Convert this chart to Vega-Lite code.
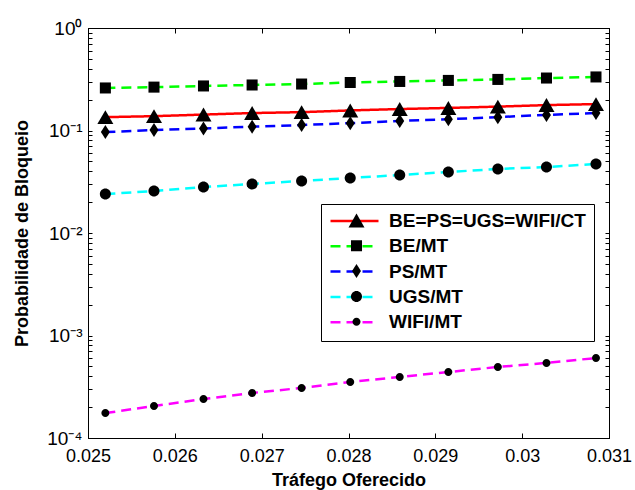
{
  "$schema": "https://vega.github.io/schema/vega-lite/v6.json",
  "autosize": "none",
  "width": 521,
  "height": 410,
  "padding": {"left": 88, "top": 28, "right": 26, "bottom": 52},
  "background": "white",
  "config": {
    "font": "Liberation Sans",
    "view": {"stroke": "black", "strokeWidth": 1},
    "axis": {"grid": false, "domainColor": "black", "tickColor": "black", "labelColor": "black", "titleColor": "black", "labelFont": "Liberation Sans", "titleFont": "Liberation Sans"}
  },
  "data": {"values": [
    {"x": 0.02520, "p": 0.135, "s": "BE=PS=UGS=WIFI/CT"},
    {"x": 0.02576, "p": 0.138, "s": "BE=PS=UGS=WIFI/CT"},
    {"x": 0.02633, "p": 0.143, "s": "BE=PS=UGS=WIFI/CT"},
    {"x": 0.02689, "p": 0.148, "s": "BE=PS=UGS=WIFI/CT"},
    {"x": 0.02746, "p": 0.151, "s": "BE=PS=UGS=WIFI/CT"},
    {"x": 0.02802, "p": 0.157, "s": "BE=PS=UGS=WIFI/CT"},
    {"x": 0.02859, "p": 0.162, "s": "BE=PS=UGS=WIFI/CT"},
    {"x": 0.02915, "p": 0.166, "s": "BE=PS=UGS=WIFI/CT"},
    {"x": 0.02972, "p": 0.171, "s": "BE=PS=UGS=WIFI/CT"},
    {"x": 0.03028, "p": 0.177, "s": "BE=PS=UGS=WIFI/CT"},
    {"x": 0.03085, "p": 0.181, "s": "BE=PS=UGS=WIFI/CT"},
    {"x": 0.02520, "p": 0.260, "s": "BE/MT"},
    {"x": 0.02576, "p": 0.265, "s": "BE/MT"},
    {"x": 0.02633, "p": 0.272, "s": "BE/MT"},
    {"x": 0.02689, "p": 0.278, "s": "BE/MT"},
    {"x": 0.02746, "p": 0.284, "s": "BE/MT"},
    {"x": 0.02802, "p": 0.294, "s": "BE/MT"},
    {"x": 0.02859, "p": 0.301, "s": "BE/MT"},
    {"x": 0.02915, "p": 0.308, "s": "BE/MT"},
    {"x": 0.02972, "p": 0.315, "s": "BE/MT"},
    {"x": 0.03028, "p": 0.325, "s": "BE/MT"},
    {"x": 0.03085, "p": 0.333, "s": "BE/MT"},
    {"x": 0.02520, "p": 0.0966, "s": "PS/MT"},
    {"x": 0.02576, "p": 0.101, "s": "PS/MT"},
    {"x": 0.02633, "p": 0.1047, "s": "PS/MT"},
    {"x": 0.02689, "p": 0.109, "s": "PS/MT"},
    {"x": 0.02746, "p": 0.113, "s": "PS/MT"},
    {"x": 0.02802, "p": 0.118, "s": "PS/MT"},
    {"x": 0.02859, "p": 0.124, "s": "PS/MT"},
    {"x": 0.02915, "p": 0.129, "s": "PS/MT"},
    {"x": 0.02972, "p": 0.135, "s": "PS/MT"},
    {"x": 0.03028, "p": 0.142, "s": "PS/MT"},
    {"x": 0.03085, "p": 0.148, "s": "PS/MT"},
    {"x": 0.02520, "p": 0.0240, "s": "UGS/MT"},
    {"x": 0.02576, "p": 0.0257, "s": "UGS/MT"},
    {"x": 0.02633, "p": 0.0281, "s": "UGS/MT"},
    {"x": 0.02689, "p": 0.0301, "s": "UGS/MT"},
    {"x": 0.02746, "p": 0.0322, "s": "UGS/MT"},
    {"x": 0.02802, "p": 0.0344, "s": "UGS/MT"},
    {"x": 0.02859, "p": 0.0368, "s": "UGS/MT"},
    {"x": 0.02915, "p": 0.0394, "s": "UGS/MT"},
    {"x": 0.02972, "p": 0.0421, "s": "UGS/MT"},
    {"x": 0.03028, "p": 0.0440, "s": "UGS/MT"},
    {"x": 0.03085, "p": 0.0471, "s": "UGS/MT"},
    {"x": 0.02520, "p": 0.000175, "s": "WIFI/MT"},
    {"x": 0.02576, "p": 0.000205, "s": "WIFI/MT"},
    {"x": 0.02633, "p": 0.000240, "s": "WIFI/MT"},
    {"x": 0.02689, "p": 0.000275, "s": "WIFI/MT"},
    {"x": 0.02746, "p": 0.000308, "s": "WIFI/MT"},
    {"x": 0.02802, "p": 0.000352, "s": "WIFI/MT"},
    {"x": 0.02859, "p": 0.000394, "s": "WIFI/MT"},
    {"x": 0.02915, "p": 0.000440, "s": "WIFI/MT"},
    {"x": 0.02972, "p": 0.000493, "s": "WIFI/MT"},
    {"x": 0.03028, "p": 0.000540, "s": "WIFI/MT"},
    {"x": 0.03085, "p": 0.000603, "s": "WIFI/MT"}
  ]},
  "resolve": {"axis": {"x": "independent", "y": "independent"}},
  "layer": [
    {
      "mark": {"type": "line", "strokeWidth": 2.5, "clip": true},
      "encoding": {
        "x": {"field": "x", "type": "quantitative",
          "scale": {"domain": [0.025, 0.031], "nice": false, "zero": false},
          "axis": {"orient": "bottom", "values": [0.025, 0.026, 0.027, 0.028, 0.029, 0.03, 0.031],
            "labelExpr": "format(datum.value, '~g')", "tickSize": -5, "labelPadding": 14,
            "labelFontSize": 18, "labelFlush": false, "labelOverlap": false,
            "title": "Tráfego Oferecido", "titleFontSize": 18, "titleFontWeight": "bold", "titlePadding": 6}},
        "y": {"field": "p", "type": "quantitative",
          "scale": {"type": "log", "domain": [0.0001, 1], "nice": false},
          "axis": {"orient": "left",
            "values": [0.0001, 0.0002, 0.0003, 0.0004, 0.0005, 0.0006, 0.0007, 0.0008, 0.0009, 0.001, 0.002, 0.003, 0.004, 0.005, 0.006, 0.007, 0.008, 0.009, 0.01, 0.02, 0.03, 0.04, 0.05, 0.06, 0.07, 0.08, 0.09, 0.1, 0.2, 0.3, 0.4, 0.5, 0.6, 0.7, 0.8, 0.9, 1],
            "labelExpr": "datum.value == 1 ? '10⁰' : datum.value == 0.1 ? '10⁻¹' : datum.value == 0.01 ? '10⁻²' : datum.value == 0.001 ? '10⁻³' : datum.value == 0.0001 ? '10⁻⁴' : ''",
            "tickSize": -4, "labelPadding": 10, "labelFontSize": 19, "labelOverlap": false, "labelFlush": false,
            "title": "Probabilidade de Bloqueio", "titleFontSize": 18, "titleFontWeight": "bold", "titlePadding": 15}},
        "color": {"field": "s", "type": "nominal",
          "scale": {"domain": ["BE=PS=UGS=WIFI/CT", "BE/MT", "PS/MT", "UGS/MT", "WIFI/MT"], "range": ["#ff0000", "#00ff00", "#0000ff", "#00ffff", "#ff00ff"]},
          "legend": {"orient": "none", "legendX": 233, "legendY": 176, "title": null, "columns": 1,
            "symbolType": "stroke", "symbolSize": 2304, "symbolStrokeWidth": 2.5,
            "padding": 8, "strokeColor": "black", "fillColor": "white",
            "labelFont": "Liberation Sans", "labelFontSize": 19, "labelFontWeight": "bold", "labelColor": "black",
            "clipHeight": 18, "rowPadding": 6.3, "labelOffset": 9, "labelLimit": 300, "zindex": 1}},
        "strokeDash": {"field": "s", "type": "nominal",
          "scale": {"domain": ["BE=PS=UGS=WIFI/CT", "BE/MT", "PS/MT", "UGS/MT", "WIFI/MT"], "range": [[1, 0], [10, 6], [10, 6], [10, 6], [10, 6]]}}
      }
    },
    {
      "mark": {"type": "point", "filled": true, "fill": "black", "strokeWidth": 0, "opacity": 1, "size": 256},
      "encoding": {
        "x": {"field": "x", "type": "quantitative",
          "axis": {"orient": "top", "values": [0.025, 0.026, 0.027, 0.028, 0.029, 0.03, 0.031], "labels": false, "tickSize": -5, "title": null}},
        "y": {"field": "p", "type": "quantitative",
          "axis": {"orient": "right",
            "values": [0.0001, 0.0002, 0.0003, 0.0004, 0.0005, 0.0006, 0.0007, 0.0008, 0.0009, 0.001, 0.002, 0.003, 0.004, 0.005, 0.006, 0.007, 0.008, 0.009, 0.01, 0.02, 0.03, 0.04, 0.05, 0.06, 0.07, 0.08, 0.09, 0.1, 0.2, 0.3, 0.4, 0.5, 0.6, 0.7, 0.8, 0.9, 1],
            "labels": false, "tickSize": -4, "title": null}},
        "shape": {"field": "s", "type": "nominal",
          "scale": {"domain": ["BE=PS=UGS=WIFI/CT", "BE/MT", "PS/MT", "UGS/MT", "WIFI/MT"],
            "range": ["M0,-0.87L1,0.87L-1,0.87Z", "M-0.69,-0.69H0.69V0.69H-0.69Z", "M0,-0.875L0.56,0L0,0.875L-0.56,0Z", "M0.69,0A0.69,0.69,0,1,1,-0.69,0A0.69,0.69,0,1,1,0.69,0Z", "M0.5,0A0.5,0.5,0,1,1,-0.5,0A0.5,0.5,0,1,1,0.5,0Z"]},
          "legend": {"orient": "right", "offset": -288, "title": "t", "titleColor": "transparent", "titleFontSize": 10, "titlePadding": 165.5, "columns": 1,
            "padding": 8, "labelFontSize": 19, "labelFontWeight": "bold", "labelFont": "Liberation Sans", "labelColor": "transparent",
            "clipHeight": 18, "rowPadding": 6.3, "labelOffset": 9, "labelLimit": 300, "symbolSize": 256,
            "symbolFillColor": "black", "symbolStrokeColor": "black", "symbolStrokeWidth": 0, "symbolOpacity": 1, "symbolOffset": 17, "zindex": 2}}
      }
    }
  ]
}
